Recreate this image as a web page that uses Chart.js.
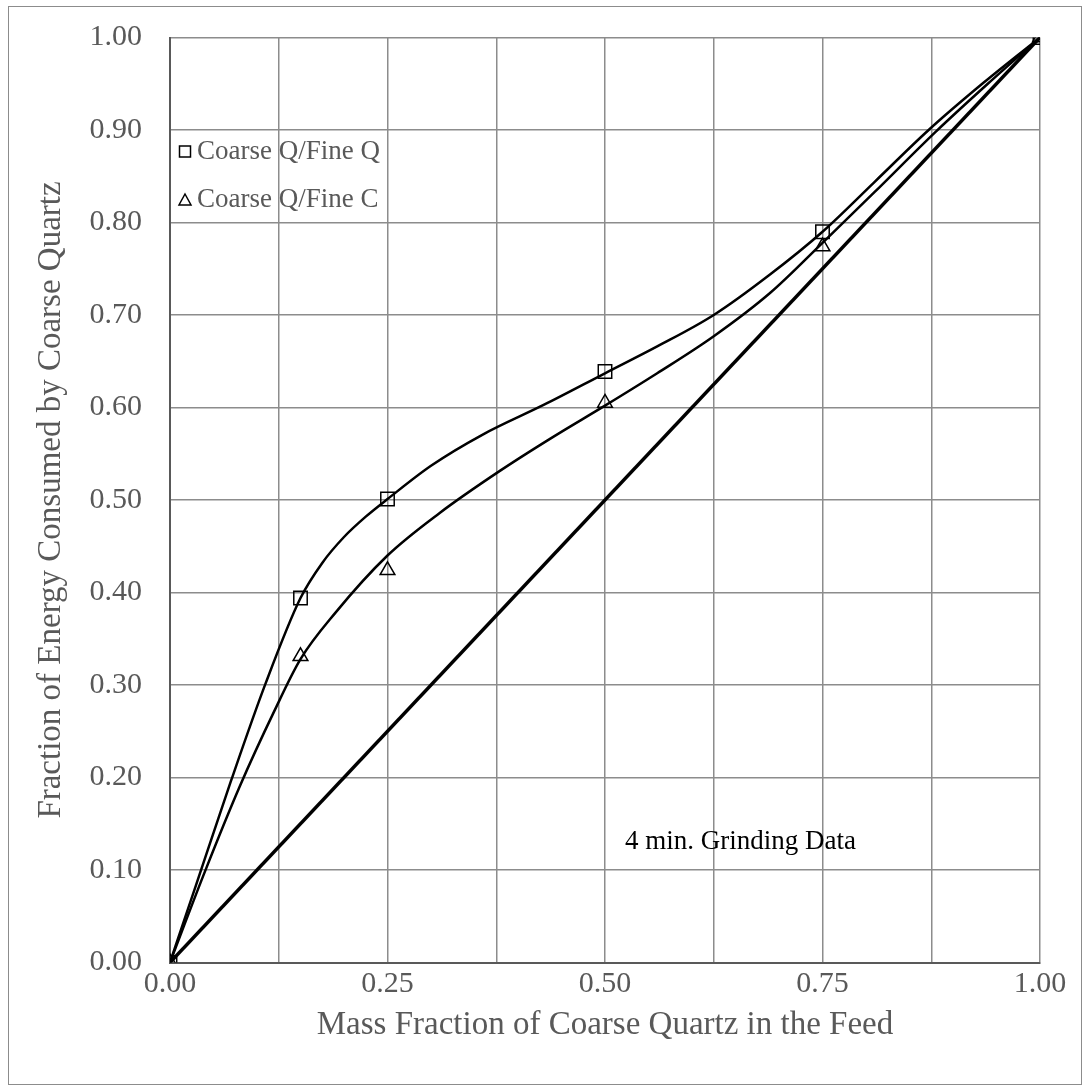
<!DOCTYPE html>
<html>
<head>
<meta charset="utf-8">
<title>Energy split vs. feed composition</title>
<script src="https://cdn.jsdelivr.net/npm/chart.js@4.4.1/dist/chart.umd.min.js"></script>
<style>
  html, body { margin: 0; padding: 0; background: #fff; }
  #wrap { position: relative; width: 1092px; height: 1090px; }
  #frame { position: absolute; left: 8px; top: 6px; width: 1072px; height: 1077px; border: 1.5px solid #8c8c8c; }
  #grafico { position: absolute; left: 0; top: 0; }
</style>
</head>
<body>
<div id="wrap">
  <div id="frame"></div>
  <canvas id="grafico" width="1092" height="1090"></canvas>
</div>
<script>
// measured points, 4 min grinding
const massFraction = [0, 0.15, 0.25, 0.50, 0.75, 1.00];
const energyFineQ = [0, 0.394, 0.501, 0.639, 0.790, 1.00];
const energyFineC = [0, 0.331, 0.424, 0.605, 0.774, 1.00];

// smoothed curves drawn through the data
const curveQx = [0, 0.03, 0.07, 0.11, 0.15, 0.175, 0.20, 0.225, 0.25, 0.30, 0.36, 0.43, 0.50, 0.56, 0.625, 0.69, 0.75, 0.81, 0.872, 0.935, 1.00];
const curveQy = [0, 0.084, 0.196, 0.302, 0.394, 0.432, 0.460, 0.482, 0.501, 0.537, 0.571, 0.603, 0.637, 0.666, 0.700, 0.744, 0.790, 0.844, 0.900, 0.951, 1.00];
const curveCx = [0, 0.04, 0.08, 0.12, 0.15, 0.19, 0.25, 0.31, 0.38, 0.44, 0.50, 0.56, 0.625, 0.69, 0.75, 0.81, 0.88, 0.94, 1.00];
const curveCy = [0, 0.098, 0.190, 0.272, 0.328, 0.378, 0.440, 0.486, 0.532, 0.568, 0.602, 0.637, 0.677, 0.724, 0.778, 0.833, 0.898, 0.950, 1.00];

// 1:1 reference line
const diagonalX = [0, 1];
const diagonalY = [0, 1];

const xTickLabels = ['0.00', '0.25', '0.50', '0.75', '1.00'];
const yTickLabels = ['0.00', '0.10', '0.20', '0.30', '0.40', '0.50', '0.60', '0.70', '0.80', '0.90', '1.00'];
const legendLabels = ['Coarse Q/Fine Q', 'Coarse Q/Fine C'];
const noteText = '4 min. Grinding Data';

function puntos(xs, ys) {
  return xs.map(function (x, i) { return { x: x, y: ys[i] }; });
}

const FUENTE = '"Liberation Serif", "Times New Roman", serif';
Chart.defaults.font.family = FUENTE;

// legend inside the plot + text note
const notasPlugin = {
  id: 'notas',
  afterDraw: function (chart) {
    const ctx = chart.ctx;
    ctx.save();
    ctx.strokeStyle = '#000';
    ctx.lineWidth = 1.5;
    // square marker
    ctx.strokeRect(179.5, 146, 11, 11);
    // triangle marker
    ctx.beginPath();
    ctx.moveTo(185, 194);
    ctx.lineTo(191, 205);
    ctx.lineTo(179, 205);
    ctx.closePath();
    ctx.stroke();

    ctx.font = '27px ' + FUENTE;
    ctx.textBaseline = 'middle';
    ctx.fillStyle = '#595959';
    ctx.fillText(legendLabels[0], 197, 152);
    ctx.fillText(legendLabels[1], 197, 200);

    ctx.fillStyle = '#000';
    ctx.fillText(noteText, 625, 842);
    ctx.restore();
  }
};

const ctx = document.getElementById('grafico');
new Chart(ctx, {
  type: 'scatter',
  data: {
    datasets: [
      {
        label: 'Coarse Q/Fine Q',
        data: puntos(massFraction, energyFineQ),
        pointStyle: 'rect',
        pointRadius: 9.5,
        pointBackgroundColor: 'rgba(0,0,0,0)',
        pointBorderColor: '#000',
        pointBorderWidth: 1.5,
        showLine: false
      },
      {
        label: 'Coarse Q/Fine C',
        data: puntos(massFraction, energyFineC),
        pointStyle: 'triangle',
        pointRadius: 8.5,
        pointBackgroundColor: 'rgba(0,0,0,0)',
        pointBorderColor: '#000',
        pointBorderWidth: 1.5,
        showLine: false
      },
      {
        label: 'curva Q',
        data: puntos(curveQx, curveQy),
        showLine: true,
        borderColor: '#000',
        borderWidth: 2.5,
        pointRadius: 0,
        cubicInterpolationMode: 'monotone'
      },
      {
        label: 'curva C',
        data: puntos(curveCx, curveCy),
        showLine: true,
        borderColor: '#000',
        borderWidth: 2.5,
        pointRadius: 0,
        cubicInterpolationMode: 'monotone'
      },
      {
        label: 'diagonal',
        data: puntos(diagonalX, diagonalY),
        showLine: true,
        borderColor: '#000',
        borderWidth: 3.5,
        pointRadius: 0
      }
    ]
  },
  options: {
    responsive: false,
    animation: false,
    layout: { padding: { left: 0, top: 37.5, right: 52, bottom: 0 } },
    plugins: {
      legend: { display: false },
      tooltip: { enabled: false }
    },
    scales: {
      x: {
        type: 'linear',
        min: 0,
        max: 1,
        afterFit: function (scale) { scale.height = 127.5; },
        ticks: {
          stepSize: 0.125,
          autoSkip: false,
          maxRotation: 0,
          padding: 4,
          color: '#595959',
          font: { size: 30 },
          callback: function (value) {
            const q = value * 4;
            if (Math.abs(q - Math.round(q)) > 1e-6) return '';
            return xTickLabels[Math.round(q)];
          }
        },
        grid: { color: '#8c8c8c', lineWidth: 1.5, drawTicks: false },
        border: { color: '#595959', width: 2 },
        title: {
          display: true,
          text: 'Mass Fraction of Coarse Quartz in the Feed',
          color: '#595959',
          font: { size: 33 },
          padding: { top: 0, bottom: 45 }
        }
      },
      y: {
        type: 'linear',
        min: 0,
        max: 1,
        afterFit: function (scale) {
          scale.width = 170;
          // tick padding would otherwise push the plot top down
          scale.paddingTop = 0;
          scale.paddingBottom = 0;
        },
        ticks: {
          stepSize: 0.1,
          autoSkip: false,
          padding: 28,
          color: '#595959',
          font: { size: 30 },
          callback: function (value) {
            return yTickLabels[Math.round(value * 10)];
          }
        },
        grid: { color: '#8c8c8c', lineWidth: 1.5, drawTicks: false },
        border: { color: '#595959', width: 2 },
        title: {
          display: true,
          text: 'Fraction of Energy Consumed by Coarse Quartz',
          color: '#595959',
          font: { size: 33 },
          padding: { top: 32, bottom: 0 }
        }
      }
    }
  },
  plugins: [notasPlugin]
});
</script>
</body>
</html>
